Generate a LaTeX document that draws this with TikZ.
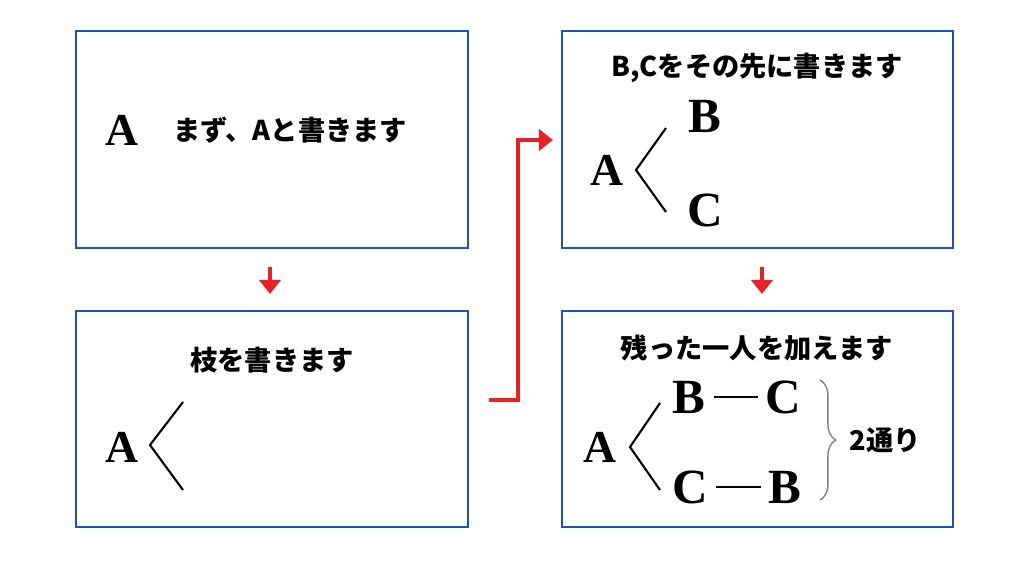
\documentclass[tikz,border=0pt]{standalone}
\usepackage{fontspec}
\setmainfont{Liberation Serif}
\newfontfamily\jp{Noto Sans CJK JP}
\usetikzlibrary{arrows.meta,decorations.pathreplacing}
\definecolor{bblue}{HTML}{1F4FC0}
\definecolor{ared}{HTML}{E8202A}
\tikzset{
  panel/.style={draw=bblue,line width=1.6pt},
  big/.style={font=\fontsize{26pt}{26pt}\selectfont\bfseries},
  bigger/.style={font=\fontsize{28pt}{28pt}\selectfont\bfseries},
  jtext/.style={font=\fontsize{15.5pt}{16pt}\selectfont\jp\bfseries},
  branch/.style={line width=1.2pt},
  flow/.style={draw=ared,line width=2.5pt,-{Triangle[length=8pt,width=12pt]}}
}
\begin{document}
\begin{tikzpicture}[x=0.02cm,y=-0.02cm]
\useasboundingbox (0,0) rectangle (1024,576);
\draw[panel] (76,31) rectangle (468,248);
\draw[panel] (76,311) rectangle (468,527);
\draw[panel] (562,31) rectangle (953,248);
\draw[panel] (562,311) rectangle (953,527);
% panel 1
\node[big] (a1) at (122,130) {A};
\node[jtext] (t1) at (290,130) {まず、Aと書きます};
% panel 2
\node[jtext] (t2) at (272,360) {枝を書きます};
\node[big] (a2) at (122,447) {A};
\coordinate (u2) at (183,402); \coordinate (m2) at (150,445); \coordinate (d2) at (183,490);
\draw[branch] (u2) -- (m2) -- (d2);
% panel 3
\node[jtext] (t3) at (757,68) {B,Cをその先に書きます};
\node[big] (a3) at (607,170) {A};
\coordinate (u3) at (666,128); \coordinate (m3) at (636,170); \coordinate (d3) at (666,212);
\draw[branch] (u3) -- (m3) -- (d3);
\node[bigger] (b3) at (705,116) {B};
\node[bigger] (c3) at (705,210) {C};
% panel 4
\node[jtext] (t4) at (757,348) {残った一人を加えます};
\node[big] (a4) at (600,447) {A};
\coordinate (u4) at (660,403); \coordinate (m4) at (630,447); \coordinate (d4) at (660,490);
\draw[branch] (u4) -- (m4) -- (d4);
\node[bigger] (bc) at (737,397) {B\,\rule[0.65ex]{0.9em}{1.3pt}\,C};
\node[bigger] (cb) at (737,487) {C\,\rule[0.65ex]{0.9em}{1.3pt}\,B};
\coordinate (br1) at (820,380); \coordinate (br2) at (820,500);
\draw[gray,line width=0.8pt,decorate,decoration={brace,amplitude=9pt}] (br1) -- (br2);
\node[jtext] (n2) at (885,440) {2通り};
% arrows
\coordinate (s1) at (270,267); \coordinate (e1) at (270,294);
\draw[flow] (s1) -- (e1);
\coordinate (s2) at (762,267); \coordinate (e2) at (762,294);
\draw[flow] (s2) -- (e2);
\coordinate (s3) at (489,400); \coordinate (e3) at (553,140);
\draw[flow] (s3) -- (518,400) -- (518,140) -- (e3);
\end{tikzpicture}
\end{document}
